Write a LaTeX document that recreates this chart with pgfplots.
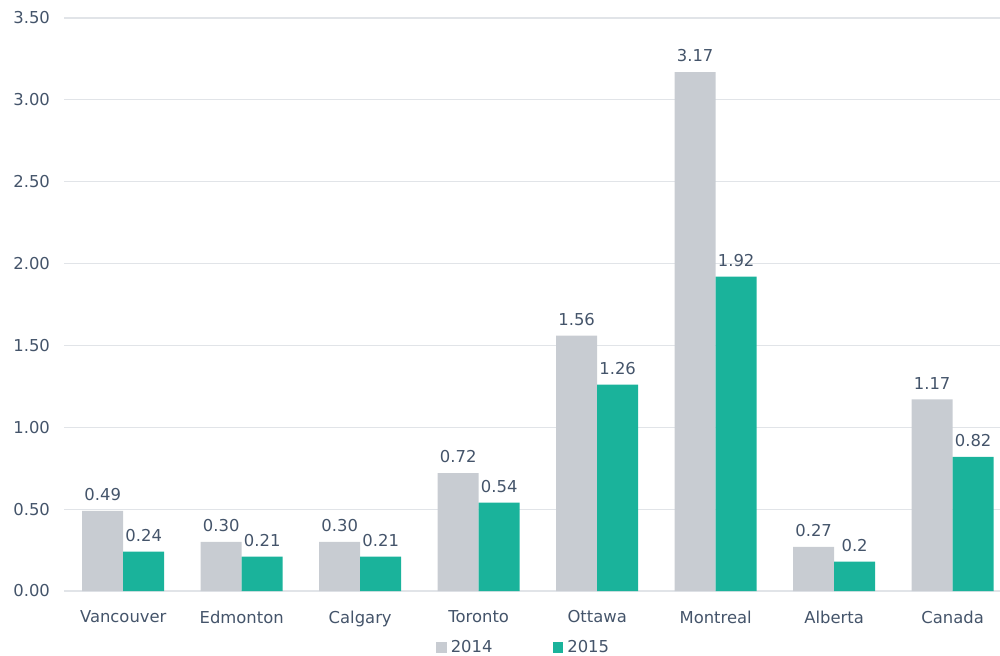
\documentclass[border=0pt]{standalone}
\usepackage{pgfplots}
\pgfplotsset{compat=1.18}
\usepackage{pgfplotstable}
\usepackage{fontspec}
\setmainfont{DejaVu Sans}
\usetikzlibrary{calc}
\definecolor{gray14}{HTML}{C8CCD2}
\definecolor{teal15}{HTML}{1AB39B}
\definecolor{txt}{HTML}{44546A}
\definecolor{gridc}{HTML}{E1E4E8}

\pgfplotstableread{
x y lab
0 0.49 0.49
1 0.30 0.30
2 0.30 0.30
3 0.72 0.72
4 1.56 1.56
5 3.17 3.17
6 0.27 0.27
7 1.17 1.17
}\dataA
\pgfplotstableread{
x y lab
0 0.24 0.24
1 0.21 0.21
2 0.21 0.21
3 0.54 0.54
4 1.26 1.26
5 1.92 1.92
6 0.18 0.2
7 0.82 0.82
}\dataB

\begin{document}
\begin{tikzpicture}[font=\fontsize{8.2}{10}\selectfont, text=txt]
\begin{axis}[
  name=ax,
  scale only axis,
  width=468pt, height=286.5pt,
  xmin=-0.5, xmax=7.4,
  ymin=0, ymax=3.5,
  ytick={0,0.5,...,3.5},
  xtick={0,...,7},
  xticklabels={Vancouver,Edmonton,Calgary,Toronto,Ottawa,Montreal,Alberta,Canada},
  /pgf/number format/.cd, fixed, fixed zerofill, precision=2, assume math mode=true,
  /pgfplots/.cd,
  axis line style={draw=none},
  tick style={draw=none},
  xmajorgrids=false,
  ymajorgrids=true,
  major grid style={draw=gridc, line width=0.6pt},
  yticklabel style={text=txt, xshift=-3.5pt},
  xticklabel style={text=txt, yshift=-2pt},
  ybar, bar width=0.346,
  enlarge x limits=false,
  clip=false,
  nodes near coords,
  point meta=explicit symbolic,
  nodes near coords style={text=txt, yshift=1.5pt},
  legend style={draw=none, at={(0.492,-0.099)}, anchor=center, legend columns=2,
    /tikz/every even column/.append style={column sep=28pt}, font=\fontsize{8.2}{10}\selectfont, text=txt},
  legend image code/.code={\fill[#1] (0pt,-2.7pt) rectangle (5.4pt,2.7pt);},
]
\addplot[fill=gray14, draw=none, bar shift=-0.173] table[x=x, y=y, meta=lab] {\dataA};
\addplot[fill=teal15, draw=none, bar shift=0.173] table[x=x, y=y, meta=lab] {\dataB};
\legend{2014,2015}
\end{axis}
\pgfresetboundingbox
\path ($(ax.south west)+(-32pt,-32pt)$) rectangle ($(ax.north east)+(0,9pt)$);
\end{tikzpicture}
\end{document}
